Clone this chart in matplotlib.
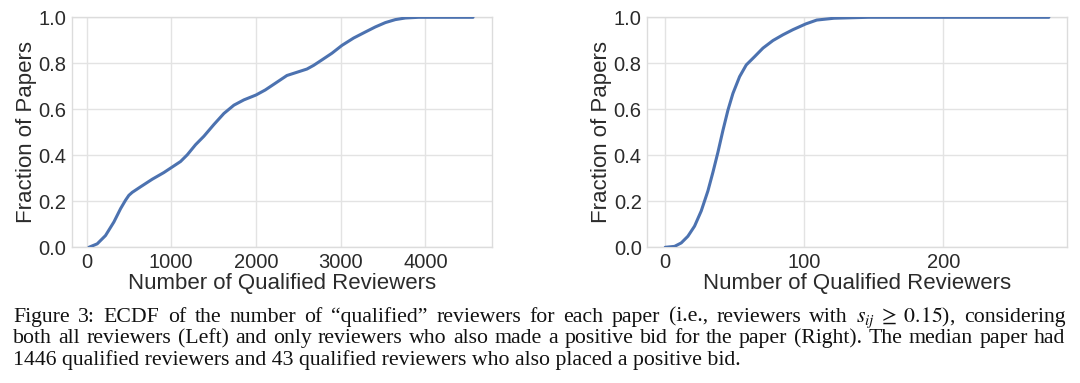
import matplotlib
matplotlib.use("Agg")
import matplotlib.pyplot as plt
from matplotlib.transforms import IdentityTransform

# ---------------- data ----------------
left_x = [28, 47, 126, 224, 323, 402, 461, 500, 540, 638, 776, 913, 1110, 1189, 1287,
          1386, 1504, 1622, 1740, 1858, 2000, 2110, 2228, 2366, 2484, 2602, 2681,
          2780, 2898, 3016, 3154, 3291, 3409, 3528, 3646, 3764, 3921, 4563]
left_y = [0.0, 0.003, 0.015, 0.051, 0.11, 0.168, 0.205, 0.226, 0.239, 0.263, 0.296,
          0.325, 0.373, 0.402, 0.446, 0.483, 0.534, 0.582, 0.618, 0.641, 0.662,
          0.684, 0.713, 0.747, 0.761, 0.775, 0.791, 0.815, 0.844, 0.878, 0.910,
          0.936, 0.958, 0.977, 0.990, 0.997, 1.0, 1.0]

right_x = [0, 6.7, 11.5, 16.3, 21.1, 25.9, 30.7, 34.3, 37.9, 41.5, 45.1, 48.7, 53.5,
           58.3, 64.3, 70.3, 77.5, 84.7, 91.8, 101, 109, 121.5, 146, 276]
right_y = [0, 0.004, 0.019, 0.048, 0.092, 0.158, 0.245, 0.326, 0.413, 0.508, 0.596,
           0.669, 0.742, 0.793, 0.829, 0.866, 0.899, 0.924, 0.946, 0.971, 0.988,
           0.996, 1.0, 1.0]

left_xticks = [0, 1000, 2000, 3000, 4000]
right_xticks = [0, 100, 200]
yticks = [0.0, 0.2, 0.4, 0.6, 0.8, 1.0]
xlabel = "Number of Qualified Reviewers"
ylabel = "Fraction of Papers"

caption_lines = [
    "Figure 3: ECDF of the number of \u201cqualified\u201d reviewers for each paper (i.e., reviewers with $s_{ij}\\;\\geq\\;0.15$), considering",
    "both all reviewers (Left) and only reviewers who also made a positive bid for the paper (Right). The median paper had",
    "1446 qualified reviewers and 43 qualified reviewers who also placed a positive bid.",
]

# ---------------- style ----------------
plt.rcParams["font.family"] = ["Liberation Sans", "DejaVu Sans"]
plt.rcParams["mathtext.fontset"] = "stix"

W, H = 1080, 383
fig = plt.figure(figsize=(W / 100, H / 100), dpi=100)
fig.patch.set_facecolor("white")

line_color = "#4c72b0"
grid_color = "#e3e3e3"
text_color = "#2b2b2b"


def make_axes(rect, xs, ys, xticks, xlim):
    ax = fig.add_axes(rect)
    ax.plot(xs, ys, color=line_color, lw=2.2, solid_capstyle="round",
            solid_joinstyle="round", zorder=3)
    ax.set_xlim(*xlim)
    ax.set_ylim(0, 1.0)
    ax.set_xticks(xticks)
    ax.set_yticks(yticks)
    ax.set_yticklabels([f"{v:.1f}" for v in yticks])
    ax.grid(True, color=grid_color, lw=1.0, zorder=0)
    ax.set_axisbelow(True)
    for s in ax.spines.values():
        s.set_color("#dcdcdc")
        s.set_linewidth(1.0)
    ax.tick_params(length=0, labelsize=14.5, colors=text_color, pad=4)
    ax.set_xlabel(xlabel, fontsize=16, color=text_color, labelpad=1)
    ax.set_ylabel(ylabel, fontsize=16, color=text_color, labelpad=1)
    return ax


ax_bottom = 1 - 247.3 / H
ax_h = 230 / H
make_axes([71.7 / W, ax_bottom, (491.5 - 71.7) / W, ax_h],
          left_x, left_y, left_xticks, (-175, 4781))
make_axes([647.3 / W, ax_bottom, (1066.8 - 647.3) / W, ax_h],
          right_x, right_y, right_xticks, (-12.9, 288.9))

# ---------------- caption (justified like the paper) ----------------
fig.canvas.draw()
renderer = fig.canvas.get_renderer()
cap_kw = dict(fontsize=15.7, family=["Liberation Serif", "DejaVu Serif"],
              color="#111111", va="baseline", ha="left",
              transform=IdentityTransform())

x_left, x_right = 13.0, 1065.5
baselines = [321.7, 343.4, 365.1]


def width_of(s):
    t = fig.text(0, 0, s, **cap_kw)
    w = t.get_window_extent(renderer).width
    t.remove()
    return w


for i, line in enumerate(caption_lines):
    yb = H - baselines[i]
    if i < 2:
        # split into words, keeping the math part as one token
        words = []
        buf = ""
        in_math = False
        for ch in line:
            if ch == "$":
                in_math = not in_math
            if ch == " " and not in_math:
                if buf:
                    words.append(buf)
                buf = ""
            else:
                buf += ch
        if buf:
            words.append(buf)
        widths = [width_of(w) for w in words]
        gap = (x_right - x_left - sum(widths)) / (len(words) - 1)
        x = x_left
        for w, wd in zip(words, widths):
            fig.text(x, yb, w, **cap_kw)
            x += wd + gap
    else:
        fig.text(x_left, yb, line, **cap_kw)

fig.savefig("out.png", dpi=100, facecolor="white")
